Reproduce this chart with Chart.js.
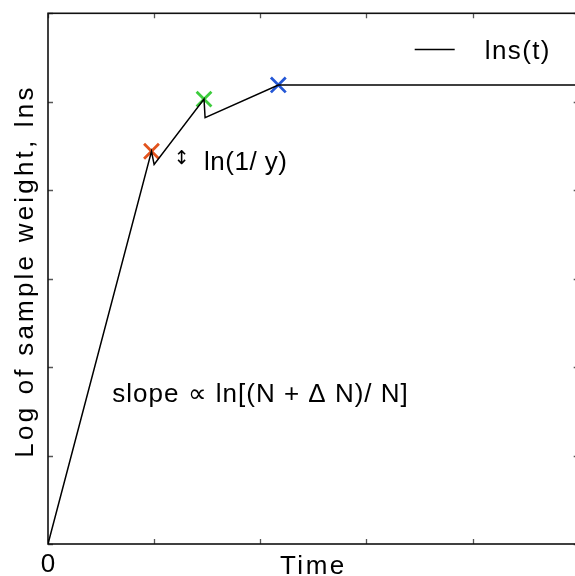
<!DOCTYPE html>
<html lang="en">
<head>
<meta charset="UTF-8">
<title>lns(t)</title>
<script src="https://cdn.jsdelivr.net/npm/chart.js"></script>
<style>
    html, body {
        margin: 0;
        padding: 0;
        background: #fff;
        overflow: hidden;
    }

    canvas {
        display: block;
    }
</style>
</head>
<body>
<canvas id="lnsChart" width="592" height="576"></canvas>
<script>
    // line lns(t)
    const timeVals = [0, 0.975, 1.0, 1.47, 1.48, 2.17, 5];
    const lnsVals = [0, 4.44, 4.29, 5.03, 4.82, 5.19, 5.19];
    // the three crosses
    const markTime = [0.975, 1.47, 2.17];
    const markLns = [4.44, 5.03, 5.19];
    const markColors = ['#e2531d', '#3dcc3d', '#2457d6'];
    // axis ticks
    const xTicks = [0, 1, 2, 3, 4, 5];
    const yTicks = [0, 1, 2, 3, 4, 5, 6];
    const seriesLabel = 'lns(t)';
    const xTitle = 'Time';
    const yTitle = 'Log of sample weight, lns';
    const noteGap = 'ln(1/ y)';
    const noteSlope = 'slope \u221d ln[(N + \u0394 N)/ N]';

    const FONT = "'Liberation Sans', Arial, sans-serif";

    function txt(ctx, s, x, y, size, spacing, align) {
        ctx.font = size + 'px ' + FONT;
        ctx.letterSpacing = spacing + 'px';
        ctx.textAlign = align || 'left';
        ctx.textBaseline = 'alphabetic';
        ctx.fillStyle = '#000';
        ctx.fillText(s, x, y);
        ctx.letterSpacing = '0px';
    }

    // frame with inward ticks, titles, notes and the legend
    const extras = {
        id: 'extras',
        beforeDatasetsDraw(chart) {
            const ctx = chart.ctx;
            const a = chart.chartArea;
            const xs = chart.scales.x, ys = chart.scales.y;
            ctx.save();
            ctx.strokeStyle = '#555';
            ctx.lineWidth = 1.3;
            ctx.beginPath();
            xTicks.forEach(v => {
                const px = Math.round(xs.getPixelForValue(v)) + 0.5;
                ctx.moveTo(px, a.bottom); ctx.lineTo(px, a.bottom - 5);
                ctx.moveTo(px, a.top); ctx.lineTo(px, a.top + 5);
            });
            yTicks.forEach(v => {
                const py = Math.round(ys.getPixelForValue(v)) + 0.5;
                ctx.moveTo(a.left, py); ctx.lineTo(a.left + 5, py);
                ctx.moveTo(a.right, py); ctx.lineTo(a.right - 5, py);
            });
            ctx.stroke();
            ctx.strokeStyle = '#111';
            ctx.lineWidth = 1.6;
            ctx.strokeRect(a.left, a.top, a.right - a.left, a.bottom - a.top);
            ctx.restore();
        },
        afterDraw(chart) {
            const ctx = chart.ctx;
            const a = chart.chartArea;
            const xs = chart.scales.x, ys = chart.scales.y;
            ctx.save();

            txt(ctx, xTitle, (a.left + a.right) / 2, 574, 26, 2.5, 'center');

            ctx.save();
            ctx.translate(33, 271);
            ctx.rotate(-Math.PI / 2);
            txt(ctx, yTitle, 0, 0, 26, 3.2, 'center');
            ctx.restore();

            // notes, anchored in data units
            ctx.font = '19px "DejaVu Sans"';
            ctx.textAlign = 'center';
            ctx.textBaseline = 'middle';
            ctx.fillStyle = '#000';
            ctx.fillText('\u2195', xs.getPixelForValue(1.26), ys.getPixelForValue(4.35));
            txt(ctx, noteGap, xs.getPixelForValue(1.47), ys.getPixelForValue(4.23), 26, 0.5);
            txt(ctx, noteSlope, xs.getPixelForValue(0.605), ys.getPixelForValue(1.60), 26, 1.0);

            // legend
            const ds = chart.data.datasets[0];
            const ly = 49.5;
            ctx.strokeStyle = ds.borderColor;
            ctx.lineWidth = ds.borderWidth;
            ctx.beginPath();
            ctx.moveTo(a.right - 164, ly);
            ctx.lineTo(a.right - 124, ly);
            ctx.stroke();
            txt(ctx, ds.label, a.right - 94, ly + 9, 26, 1.4);

            ctx.restore();
        }
    };

    const ctx = document.getElementById('lnsChart').getContext('2d');
    new Chart(ctx, {
        data: {
            datasets: [{
                type: 'line',
                label: seriesLabel,
                data: timeVals.map((t, i) => ({ x: t, y: lnsVals[i] })),
                borderColor: '#000',
                borderWidth: 1.5,
                pointRadius: 0,
                tension: 0
            }, {
                type: 'scatter',
                label: 'marks',
                data: markTime.map((t, i) => ({ x: t, y: markLns[i] })),
                pointStyle: 'crossRot',
                pointRadius: 10.5,
                pointBorderWidth: 2.8,
                pointBorderColor: markColors,
                pointBackgroundColor: markColors
            }]
        },
        options: {
            responsive: false,
            animation: false,
            layout: {
                padding: { left: 48, top: 12, right: 2, bottom: 0 }
            },
            plugins: {
                legend: { display: false },
                tooltip: { enabled: false }
            },
            scales: {
                x: {
                    type: 'linear',
                    min: 0,
                    max: 5,
                    grid: { display: false },
                    border: { display: false },
                    ticks: {
                        stepSize: 1,
                        autoSkip: false,
                        maxRotation: 0,
                        padding: -3,
                        color: '#000',
                        font: { family: FONT, size: 26 },
                        callback: v => (v === xTicks[0] ? '0' : '')
                    },
                    afterFit: s => {
                        s.height = 32;
                        s.paddingLeft = 0;
                        s.paddingRight = 0;
                    }
                },
                y: {
                    type: 'linear',
                    min: 0,
                    max: 6,
                    display: false
                }
            }
        },
        plugins: [extras]
    });
</script>
</body>
</html>
